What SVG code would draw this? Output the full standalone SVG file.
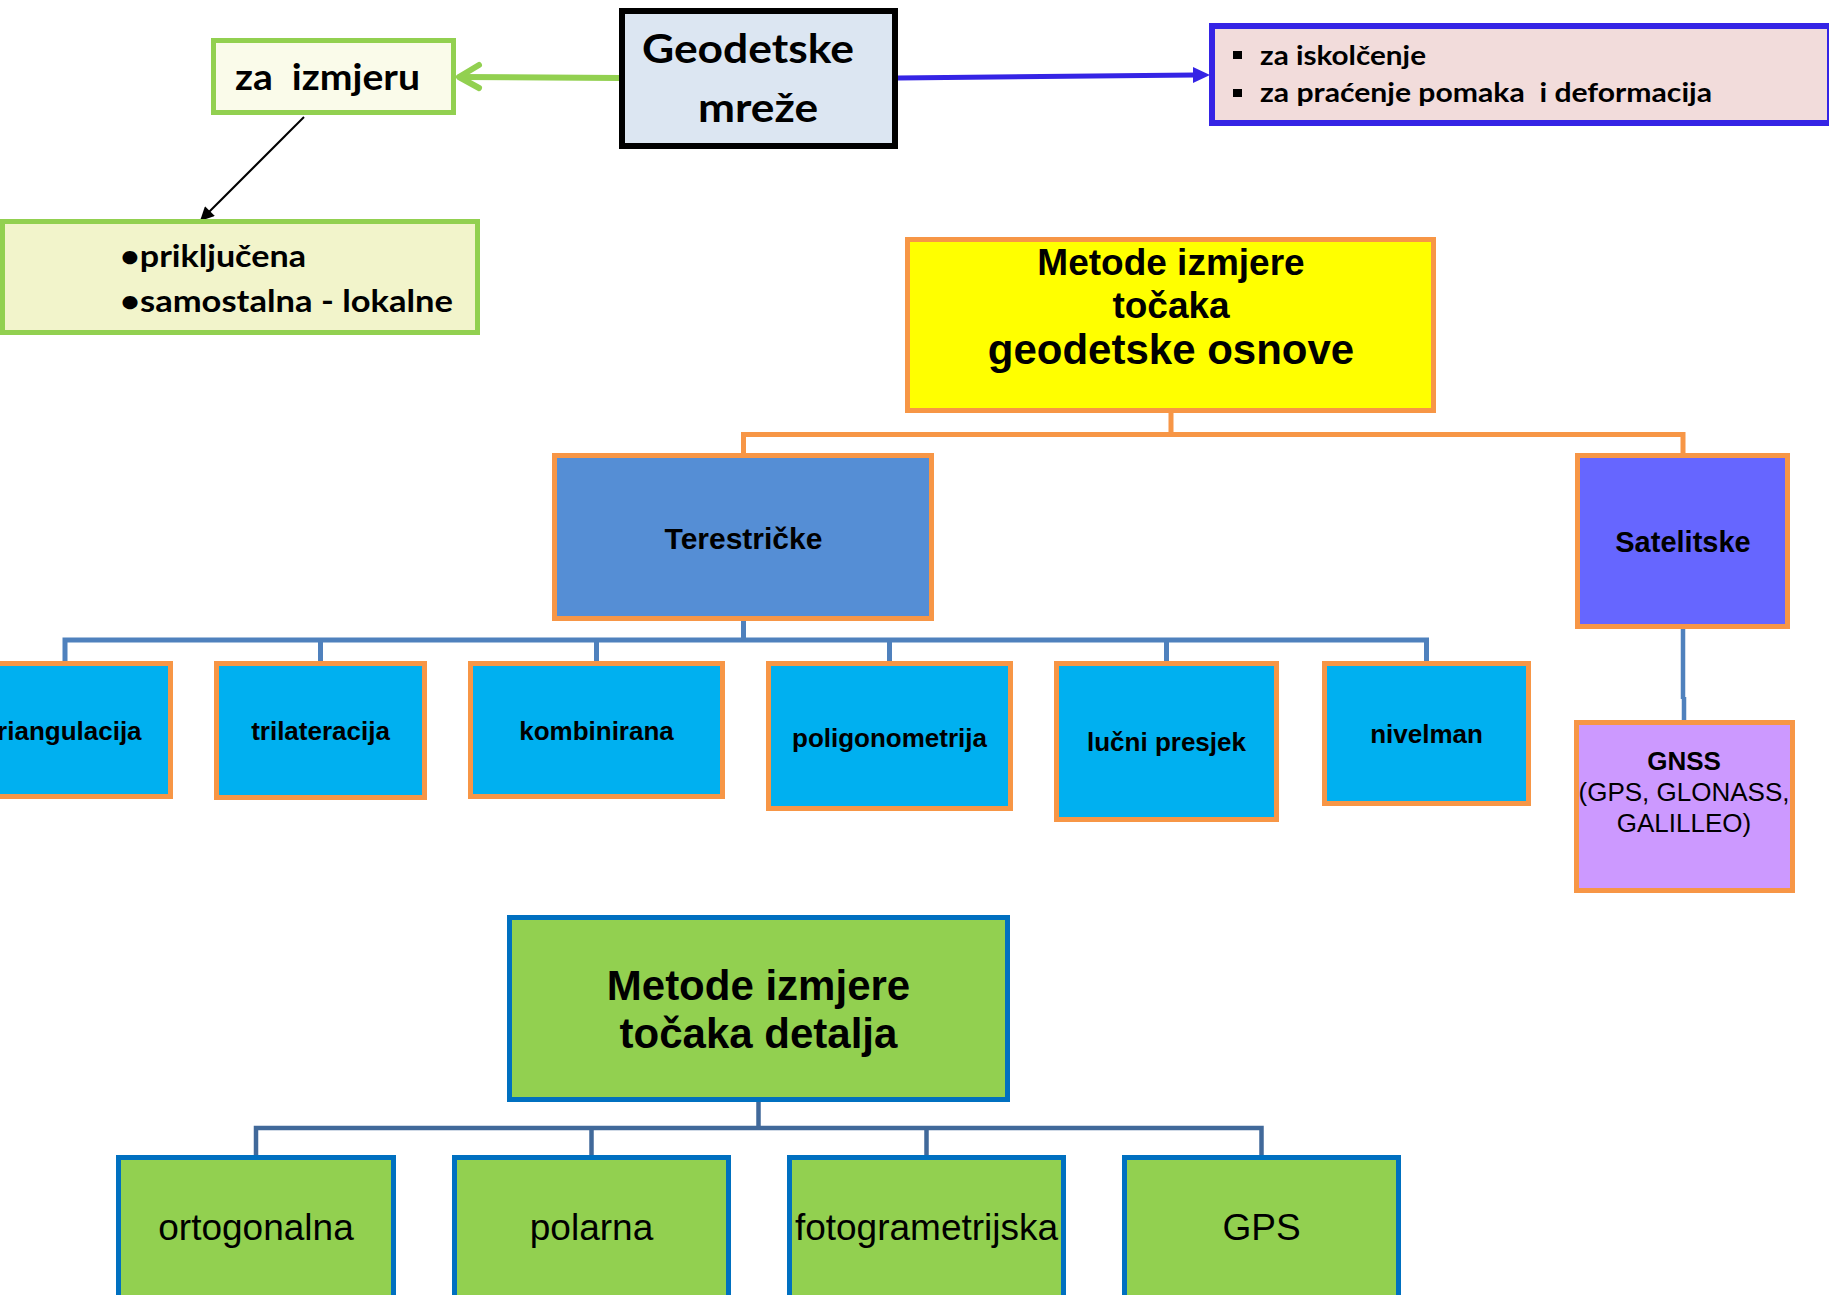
<svg xmlns="http://www.w3.org/2000/svg" width="1829" height="1295" viewBox="0 0 1829 1295">
<style>
.cal{font-family:Lato,"Open Sans","DejaVu Sans",sans-serif;font-weight:bold;fill:#000}
.ar{font-family:"Liberation Sans",Arial,sans-serif;fill:#000}
.b{font-weight:bold}
.org{stroke:#F79646;stroke-width:5}
.tb{fill:#00B0F0}
.det{fill:#92D050;stroke:#0070C0;stroke-width:5}
.mid{text-anchor:middle}
</style>
<defs>
<marker id="blk" viewBox="0 0 10 10" refX="9" refY="5" markerWidth="8" markerHeight="7" markerUnits="strokeWidth" orient="auto">
<path d="M0,0 L10,5 L0,10 z" fill="#000"/>
</marker>
</defs>
<rect width="1829" height="1295" fill="#fff"/>

<g id="connectors" fill="none">
<path d="M620 78 L460 77" stroke="#92D050" stroke-width="6" stroke-linecap="round"/>
<path d="M479 65 L459 77 L479 88" stroke="#92D050" stroke-width="6" stroke-linecap="round" stroke-linejoin="round"/>
<path d="M304 117 L201 220" stroke="#000" stroke-width="2" marker-end="url(#blk)"/>
<path d="M898 78 L1195 75" stroke="#3524E5" stroke-width="5"/>
<path d="M1193 67 L1210 75 L1193 83 z" fill="#3524E5"/>
<path d="M1171 413 V434.5 M743.5 455 V434.5 H1683 V455" stroke="#F79646" stroke-width="5"/>
<path d="M743.5 621 V640 M65 661 V640 H1426.5 V661 M320.5 640 V661 M596.5 640 V661 M889.5 640 V661 M1166.5 640 V661" stroke="#4F81BD" stroke-width="5"/>
<path d="M1683 629 V699 M1684 697 V720" stroke="#4F81BD" stroke-width="4.5"/>
<path d="M758.5 1102 V1128 M256 1157 V1128 H1261.5 V1157 M591.5 1128 V1157 M926.5 1128 V1157" stroke="#41699A" stroke-width="4.5"/>
</g>

<g id="geodetske">
<rect x="622" y="11" width="273" height="135" fill="#DCE6F2" stroke="#000" stroke-width="6"/>
<text class="cal" x="642" y="63" font-size="41" textLength="212" lengthAdjust="spacingAndGlyphs">Geodetske</text>
<text class="cal" x="698" y="122" font-size="41" textLength="120" lengthAdjust="spacingAndGlyphs">mreže</text>
</g>

<g id="za-izmjeru">
<rect x="213.5" y="40.5" width="240" height="72" fill="#FAFBEA" stroke="#92D050" stroke-width="5"/>
<text class="cal" x="235" y="90" font-size="36" textLength="185" lengthAdjust="spacingAndGlyphs" xml:space="preserve">za  izmjeru</text>
</g>

<g id="vrste">
<rect x="2.5" y="221.5" width="475" height="111" fill="#F2F4CB" stroke="#92D050" stroke-width="5"/>
<text class="cal" x="120" y="267" font-size="31" textLength="186" lengthAdjust="spacingAndGlyphs">•priključena</text>
<text class="cal" x="120" y="312" font-size="31" textLength="333" lengthAdjust="spacingAndGlyphs">•samostalna - lokalne</text>
</g>

<g id="namjena">
<rect x="1212" y="26" width="618" height="97" fill="#F2DCDB" stroke="#3524E5" stroke-width="6"/>
<rect x="1233" y="51" width="9" height="8" fill="#000"/>
<rect x="1233" y="89" width="9" height="8" fill="#000"/>
<text class="cal" x="1260" y="65" font-size="26" textLength="166" lengthAdjust="spacingAndGlyphs">za iskolčenje</text>
<text class="cal" x="1260" y="102" font-size="26" textLength="452" lengthAdjust="spacingAndGlyphs" xml:space="preserve">za praćenje pomaka  i deformacija</text>
</g>

<g id="metode-osnove">
<rect x="907.5" y="239.5" width="526" height="171" fill="#FFFF00" class="org"/>
<text class="ar b mid" x="1171" y="275" font-size="37">Metode izmjere</text>
<text class="ar b mid" x="1171" y="318" font-size="37">točaka</text>
<text class="ar b mid" x="1171" y="364" font-size="42">geodetske osnove</text>
</g>

<g id="terestricke">
<rect x="554.5" y="455.5" width="377" height="163" fill="#558ED5" class="org"/>
<text class="ar b mid" x="743.5" y="549" font-size="30">Terestričke</text>
</g>

<g id="satelitske">
<rect x="1577.5" y="455.5" width="210" height="171" fill="#6666FF" class="org"/>
<text class="ar b mid" x="1683" y="552" font-size="29">Satelitske</text>
</g>

<g id="triangulacija">
<rect x="-40.5" y="663.5" width="211" height="133" class="tb org"/>
<text class="ar b mid" x="65" y="740" font-size="26">triangulacija</text>
</g>
<g id="trilateracija">
<rect x="216.5" y="663.5" width="208" height="134" class="tb org"/>
<text class="ar b mid" x="320.5" y="740" font-size="26">trilateracija</text>
</g>
<g id="kombinirana">
<rect x="470.5" y="663.5" width="252" height="133" class="tb org"/>
<text class="ar b mid" x="596.5" y="740" font-size="26">kombinirana</text>
</g>
<g id="poligonometrija">
<rect x="768.5" y="663.5" width="242" height="145" class="tb org"/>
<text class="ar b mid" x="889.5" y="747" font-size="26">poligonometrija</text>
</g>
<g id="lucni-presjek">
<rect x="1056.5" y="663.5" width="220" height="156" class="tb org"/>
<text class="ar b mid" x="1166.5" y="751" font-size="26">lučni presjek</text>
</g>
<g id="nivelman">
<rect x="1324.5" y="663.5" width="204" height="140" class="tb org"/>
<text class="ar b mid" x="1426.5" y="743" font-size="26">nivelman</text>
</g>

<g id="gnss">
<rect x="1576.5" y="722.5" width="216" height="168" fill="#CC99FF" class="org"/>
<text class="ar b mid" x="1684" y="770" font-size="26">GNSS</text>
<text class="ar mid" x="1684" y="801" font-size="26">(GPS, GLONASS,</text>
<text class="ar mid" x="1684" y="832" font-size="26">GALILLEO)</text>
</g>

<g id="metode-detalja">
<rect x="509.5" y="917.5" width="498" height="182" class="det"/>
<text class="ar b mid" x="758.5" y="1000" font-size="42">Metode izmjere</text>
<text class="ar b mid" x="758.5" y="1048" font-size="42">točaka detalja</text>
</g>

<g id="ortogonalna">
<rect x="118.5" y="1157.5" width="275" height="200" class="det"/>
<text class="ar mid" x="256" y="1240" font-size="37">ortogonalna</text>
</g>
<g id="polarna">
<rect x="454.5" y="1157.5" width="274" height="200" class="det"/>
<text class="ar mid" x="591.5" y="1240" font-size="37">polarna</text>
</g>
<g id="fotogrametrijska">
<rect x="789.5" y="1157.5" width="274" height="200" class="det"/>
<text class="ar mid" x="926.5" y="1240" font-size="37">fotogrametrijska</text>
</g>
<g id="gps">
<rect x="1124.5" y="1157.5" width="274" height="200" class="det"/>
<text class="ar mid" x="1261.5" y="1240" font-size="37">GPS</text>
</g>
</svg>
